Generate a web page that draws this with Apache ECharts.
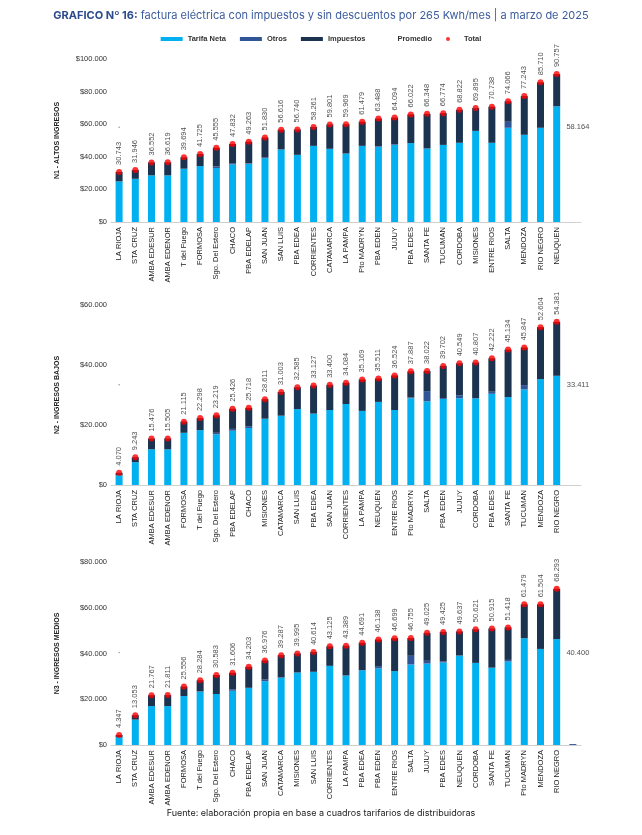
<!DOCTYPE html>
<html>
<head>
<meta charset="utf-8">
<script src="https://cdn.jsdelivr.net/npm/echarts@6/dist/echarts.min.js"></script>
<style>
  html, body { margin: 0; padding: 0; background: #fff; }
  #chart { width: 642px; height: 835px; }
</style>
</head>
<body>
<div id="chart"></div>
<script>
// N1 - altos ingresos
const cat1 = ["LA RIOJA", "STA CRUZ", "AMBA EDESUR", "AMBA EDENOR", "T del Fuego", "FORMOSA", "Sgo. Del Estero", "CHACO", "PBA EDELAP", "SAN JUAN", "SAN LUIS", "PBA EDEA", "CORRIENTES", "CATAMARCA", "LA PAMPA", "Pto MADRYN", "PBA EDEN", "JUJUY", "PBA EDES", "SANTA FE", "TUCUMAN", "CORDOBA", "MISIONES", "ENTRE RIOS", "SALTA", "MENDOZA", "RIO NEGRO", "NEUQUEN", ""];
const neta1 = [24900, 26500, 28600, 28600, 32700, 34300, 33100, 35300, 35700, 39200, 44500, 41200, 46700, 44900, 42000, 46700, 46100, 47300, 48400, 45100, 47300, 48600, 55900, 48600, 57800, 53500, 57800, 71000];
const otros1 = [0, 0, 0, 0, 0, 0, 1000, 800, 300, 300, 0, 0, 0, 0, 0, 0, 300, 400, 0, 0, 0, 0, 0, 0, 3700, 0, 0, 0];
const total1 = [30743, 31946, 36552, 36619, 39694, 41725, 45555, 47832, 49263, 51830, 56616, 56740, 58261, 59801, 59969, 61479, 63488, 64094, 66022, 66348, 66774, 68822, 69895, 70738, 74066, 77243, 85710, 90757];
const prom1 = 58164;

// N2 - ingresos bajos
const cat2 = ["LA RIOJA", "STA CRUZ", "AMBA EDESUR", "AMBA EDENOR", "FORMOSA", "T del Fuego", "Sgo. Del Estero", "PBA EDELAP", "CHACO", "MISIONES", "CATAMARCA", "SAN LUIS", "PBA EDEA", "SAN JUAN", "CORRIENTES", "LA PAMPA", "NEUQUEN", "ENTRE RIOS", "Pto MADRYN", "SALTA", "PBA EDEN", "JUJUY", "CORDOBA", "PBA EDES", "SANTA FE", "TUCUMAN", "MENDOZA", "RIO NEGRO", ""];
const neta2 = [3200, 7600, 11900, 11900, 17400, 18300, 16900, 18100, 19000, 22100, 23100, 25300, 23800, 25000, 27000, 24700, 27700, 25000, 28900, 27900, 28700, 28900, 28900, 30400, 29300, 31900, 35300, 36400];
const otros2 = [0, 0, 0, 0, 0, 0, 500, 600, 600, 0, 0, 0, 0, 0, 0, 0, 0, 0, 300, 3400, 300, 1000, 0, 700, 0, 1400, 0, 0];
const total2 = [4070, 9243, 15476, 15505, 21115, 22298, 23219, 25426, 25718, 28611, 31003, 32585, 33127, 33400, 34084, 35169, 35511, 36524, 37887, 38022, 39702, 40549, 40807, 42222, 45134, 45847, 52604, 54381];
const prom2 = 33411;

// N3 - ingresos medios
const cat3 = ["LA RIOJA", "STA CRUZ", "AMBA EDESUR", "AMBA EDENOR", "FORMOSA", "T del Fuego", "Sgo. Del Estero", "CHACO", "PBA EDELAP", "SAN JUAN", "CATAMARCA", "MISIONES", "SAN LUIS", "CORRIENTES", "LA PAMPA", "PBA EDEA", "PBA EDEN", "ENTRE RIOS", "SALTA", "JUJUY", "PBA EDES", "NEUQUEN", "CORDOBA", "SANTA FE", "TUCUMAN", "Pto MADRYN", "MENDOZA", "RIO NEGRO", ""];
const neta3 = [3500, 11100, 17000, 17000, 21400, 23400, 22300, 23700, 25000, 27900, 29500, 31700, 32000, 34600, 30400, 32700, 33500, 32300, 35200, 35600, 36100, 39100, 35900, 33800, 36500, 46700, 42000, 46300];
const otros3 = [0, 0, 0, 0, 0, 0, 0, 700, 0, 700, 0, 0, 0, 0, 0, 0, 1000, 0, 3800, 1200, 400, 0, 0, 0, 700, 0, 0, 0, 400];
const total3 = [4347, 13053, 21767, 21811, 25556, 28284, 30583, 31606, 34203, 36976, 39287, 39995, 40614, 43125, 43389, 44691, 46138, 46699, 46755, 49025, 49425, 49637, 50621, 50915, 51418, 61479, 61504, 68293];
const prom3 = 40400;

const yMax = [100000, 60000, 80000];
const yNames = ["N1 - ALTOS INGRESOS", "N2 - INGRESOS BAJOS", "N3 - INGRESOS MEDIOS"];

const panels = [
  { cat: cat1, neta: neta1, otros: otros1, total: total1, prom: prom1 },
  { cat: cat2, neta: neta2, otros: otros2, total: total2, prom: prom2 },
  { cat: cat3, neta: neta3, otros: otros3, total: total3, prom: prom3 }
];

const myChart = echarts.init(document.getElementById("chart"));

const cNeta = "#00B0F0";
const cOtros = "#2F5597";
const cImp = "#1C3350";
const font = "'Liberation Sans', sans-serif";
const fmt = v => String(v).replace(/\B(?=(\d{3})+(?!\d))/g, ".");

const grids = [
  { left: 111, width: 470, top: 59, height: 163 },
  { left: 111, width: 470, top: 305, height: 180 },
  { left: 111, width: 470, top: 562, height: 183 }
];

const xAxes = [], yAxes = [], series = [];
panels.forEach((p, i) => {
  xAxes.push({
    type: "category", gridIndex: i, data: p.cat,
    axisLine: { lineStyle: { color: "#D0D0D0" } },
    axisTick: { show: false },
    axisLabel: { rotate: 90, interval: 0, fontSize: 7.5, color: "#222", fontFamily: font, margin: 5 }
  });
  yAxes.push({
    type: "value", gridIndex: i, min: 0, max: yMax[i], interval: 20000,
    name: yNames[i], nameLocation: "middle", nameGap: 50, nameRotate: 90,
    nameTextStyle: { fontSize: 7, fontWeight: "bold", color: "#222", fontFamily: font },
    splitLine: { show: false },
    axisLine: { show: false },
    axisTick: { show: false },
    axisLabel: { fontSize: 7.5, color: "#333", fontFamily: font, margin: 4, formatter: v => "$" + fmt(v) }
  });
  const imp = p.total.map((t, k) => t - p.neta[k] - p.otros[k]);
  const common = { type: "bar", stack: "s" + i, xAxisIndex: i, yAxisIndex: i, barWidth: 7 };
  series.push(Object.assign({ name: "Tarifa Neta", data: p.neta, itemStyle: { color: cNeta } }, common));
  series.push(Object.assign({ name: "Otros", data: p.otros, itemStyle: { color: cOtros } }, common));
  series.push(Object.assign({ name: "Impuestos", data: imp, itemStyle: { color: cImp } }, common));
  series.push({
    name: "Promedio", type: "scatter", xAxisIndex: i, yAxisIndex: i,
    itemStyle: { color: "#777" },
    data: [
      { value: [0, p.prom], symbolSize: 1.5 },
      {
        value: [p.cat.length - 1, p.prom], symbolSize: 0.1, itemStyle: { color: "transparent" },
        label: { show: true, position: "inside", offset: [5, 0], formatter: () => fmt(p.prom), fontSize: 7.5, color: "#222", fontFamily: font }
      }
    ]
  });
  series.push({
    name: "Total", type: "scatter", xAxisIndex: i, yAxisIndex: i,
    symbolSize: 6, itemStyle: { color: "#FF0000" }, z: 5,
    data: p.total,
    label: {
      show: true, position: "top", distance: 4, rotate: 90, align: "left", verticalAlign: "middle",
      fontSize: 7.5, color: "#222", fontFamily: font, formatter: d => fmt(d.value)
    }
  });
});

const option = {
  animation: false,
  backgroundColor: "#fff",
  title: {
    left: "center", top: 5,
    text: "{b|GRAFICO Nº 16:} factura eléctrica con impuestos y sin descuentos por 265 Kwh/mes | a marzo de 2025",
    textStyle: {
      fontSize: 11, fontWeight: "normal", color: "#3B5C9C", fontFamily: "Inter, 'Open Sans', sans-serif",
      rich: { b: { fontSize: 11, fontWeight: "bold", color: "#2C4A8C", fontFamily: "Inter, 'Open Sans', sans-serif" } }
    }
  },
  graphic: [{
    type: "text", left: "center", top: 809,
    style: { text: "Fuente: elaboración propia en base a cuadros tarifarios de distribuidoras", fontSize: 9, fill: "#222", fontFamily: "Inter, 'Open Sans', sans-serif" }
  }],
  legend: {
    top: 30, left: "center", itemWidth: 22, itemHeight: 4, itemGap: 14,
    textStyle: { fontSize: 7.5, fontWeight: "bold", color: "#333", fontFamily: font },
    data: [
      { name: "Tarifa Neta", icon: "rect" },
      { name: "Otros", icon: "rect" },
      { name: "Impuestos", icon: "rect" },
      { name: "Promedio", icon: "circle", itemStyle: { color: "#fff" } },
      { name: "Total", icon: "circle" }
    ]
  },
  grid: grids,
  xAxis: xAxes,
  yAxis: yAxes,
  series: series
};

myChart.setOption(option);
</script>
</body>
</html>
